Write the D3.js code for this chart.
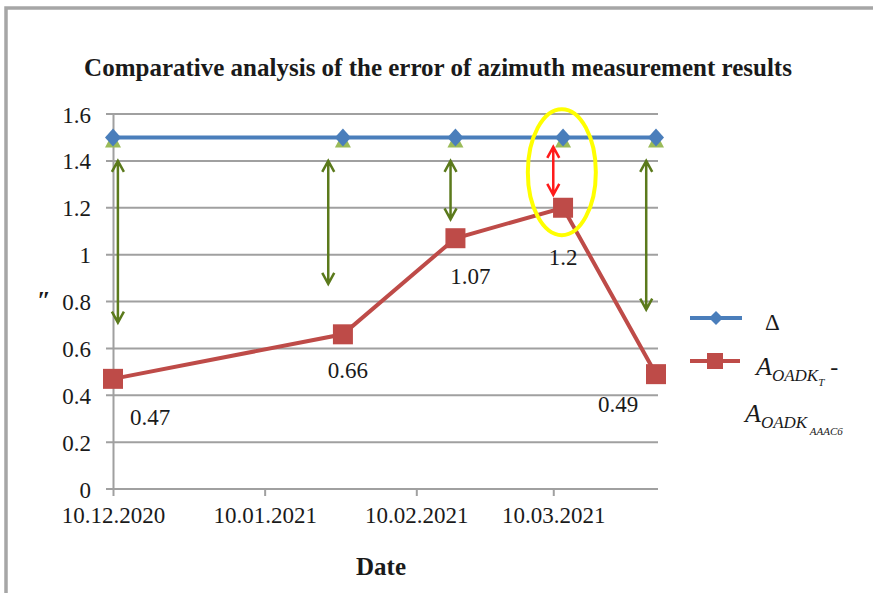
<!DOCTYPE html>
<html>
<head>
<meta charset="utf-8">
<script src="https://cdn.jsdelivr.net/npm/d3@7"></script>
<style>
  body { margin: 0; background: #fff; }
  svg { display: block; }
  text { font-family: "Liberation Serif", "Times New Roman", serif; fill: #1a1a1a; }
</style>
</head>
<body>
<div id="chart-container"></div>
<script>
// values
const dates = ["2020-12-10", "2021-01-26", "2021-02-18", "2021-03-12", "2021-03-31"];
const deltaValues = [1.5, 1.5, 1.5, 1.5, 1.5];
const diffValues = [0.47, 0.66, 1.07, 1.2, 0.49];

const yTicks = [0, 0.2, 0.4, 0.6, 0.8, 1, 1.2, 1.4, 1.6];
const xTickDates = ["2020-12-10", "2021-01-10", "2021-02-10", "2021-03-10"];
const xTickLabels = ["10.12.2020", "10.01.2021", "10.02.2021", "10.03.2021"];

// double arrows drawn between the two series
const arrowDates = ["2020-12-11", "2021-01-23", "2021-02-17", "2021-03-10", "2021-03-29"];
const arrowTop = [1.4, 1.4, 1.4, 1.46, 1.4];
const arrowBottom = [0.71, 0.875, 1.15, 1.255, 0.765];
const arrowRed = [false, false, false, true, false];

const titleText = "Comparative analysis of the error of azimuth measurement results";
const xTitle = "Date";
const yTitle = "\u2033";

const parse = d3.timeParse("%Y-%m-%d");

// label placement relative to each red point (pixels)
const labelOffsets = [[37, 46], [5, 44], [15, 46], [0, 57], [-38, 38]];

const svg = d3.select("#chart-container")
    .append("svg")
    .attr("width", 873)
    .attr("height", 593);

// outer frame
svg.append("rect")
    .attr("x", 6).attr("y", 8)
    .attr("width", 960).attr("height", 700)
    .attr("fill", "none")
    .attr("stroke", "#a6a6a6")
    .attr("stroke-width", 3.5);

const x = d3.scaleTime()
    .domain([parse("2020-12-10"), parse("2021-03-31")])
    .range([113, 656]);

const y = d3.scaleLinear()
    .domain([0, 1.6])
    .range([489, 114]);

// gridlines
svg.append("g")
    .selectAll("line")
    .data(yTicks)
    .enter().append("line")
    .attr("x1", 106).attr("x2", 658)
    .attr("y1", d => y(d)).attr("y2", d => y(d))
    .attr("stroke", "#a0a0a0")
    .attr("stroke-width", 2);

const yAxis = svg.append("g")
    .attr("transform", "translate(113,0)")
    .call(d3.axisLeft(y).tickValues(yTicks).tickSize(0).tickPadding(22)
        .tickFormat(d => String(d)));
yAxis.select(".domain").attr("stroke", "#a0a0a0").attr("stroke-width", 2);
yAxis.selectAll("text").style("font-size", "23px").attr("dy", "0.35em");

const xAxis = svg.append("g")
    .attr("transform", "translate(0,489)")
    .call(d3.axisBottom(x).tickValues(xTickDates.map(parse)).tickSize(7).tickPadding(11)
        .tickSizeOuter(0)
        .tickFormat((d, i) => xTickLabels[i]));
xAxis.select(".domain").attr("stroke", "#a0a0a0").attr("stroke-width", 2)
    .attr("d", "M113,0H658");
xAxis.selectAll("line").attr("stroke", "#a0a0a0").attr("stroke-width", 2);
xAxis.selectAll("text").style("font-size", "23px");

// title
svg.append("text")
    .attr("x", 438).attr("y", 76)
    .attr("text-anchor", "middle")
    .style("font-size", "25px")
    .style("font-weight", "bold")
    .text(titleText);

svg.append("text")
    .attr("x", 381).attr("y", 575)
    .attr("text-anchor", "middle")
    .style("font-size", "25px")
    .style("font-weight", "bold")
    .text(xTitle);

svg.append("text")
    .attr("x", 44).attr("y", 309)
    .attr("text-anchor", "middle")
    .style("font-size", "25px")
    .style("font-weight", "bold")
    .style("font-style", "italic")
    .text(yTitle);

const deltaData = dates.map((d, i) => ({ date: parse(d), value: deltaValues[i] }));
const diffData = dates.map((d, i) => ({ date: parse(d), value: diffValues[i] }));

const line = d3.line().x(d => x(d.date)).y(d => y(d.value));

// arrows
function arrowPath(xp, y1, y2) {
    const h = 11, w = 6;
    return `M${xp},${y1}V${y2}` +
        `M${xp - w},${y1 + h}L${xp},${y1}L${xp + w},${y1 + h}` +
        `M${xp - w},${y2 - h}L${xp},${y2}L${xp + w},${y2 - h}`;
}
svg.append("g")
    .selectAll("path")
    .data(arrowDates)
    .enter().append("path")
    .attr("d", (d, i) => arrowPath(x(parse(d)), y(arrowTop[i]), y(arrowBottom[i])))
    .attr("fill", "none")
    .attr("stroke", (d, i) => arrowRed[i] ? "#ff1a1a" : "#5b7a1c")
    .attr("stroke-width", 2.5);

// delta series
svg.append("path")
    .datum(deltaData)
    .attr("d", line)
    .attr("fill", "none")
    .attr("stroke", "#4a7ebb")
    .attr("stroke-width", 4);

// green triangles hidden under the diamonds
svg.append("g")
    .selectAll("path")
    .data(deltaData)
    .enter().append("path")
    .attr("transform", d => `translate(${x(d.date)},${y(d.value)})`)
    .attr("d", "M0,-5L8,10L-8,10Z")
    .attr("fill", "#9bbb59");

svg.append("g")
    .selectAll("path")
    .data(deltaData)
    .enter().append("path")
    .attr("transform", d => `translate(${x(d.date)},${y(d.value)})`)
    .attr("d", "M0,-9L8,0L0,9L-8,0Z")
    .attr("fill", "#4a7ebb");

// difference series
svg.append("path")
    .datum(diffData)
    .attr("d", line)
    .attr("fill", "none")
    .attr("stroke", "#be4b48")
    .attr("stroke-width", 4);

svg.append("g")
    .selectAll("rect")
    .data(diffData)
    .enter().append("rect")
    .attr("x", d => x(d.date) - 10)
    .attr("y", d => y(d.value) - 10)
    .attr("width", 20).attr("height", 20)
    .attr("fill", "#be4b48");

svg.append("g")
    .selectAll("text")
    .data(diffData)
    .enter().append("text")
    .attr("x", (d, i) => x(d.date) + labelOffsets[i][0])
    .attr("y", (d, i) => y(d.value) + labelOffsets[i][1])
    .attr("text-anchor", "middle")
    .style("font-size", "23px")
    .text(d => String(d.value));

// highlight ellipse
svg.append("ellipse")
    .attr("cx", x(new Date(2021, 2, 11, 18)))
    .attr("cy", y(1.352))
    .attr("rx", 34).attr("ry", 63)
    .attr("fill", "none")
    .attr("stroke", "#ffff00")
    .attr("stroke-width", 4);

// legend
const legend = svg.append("g");
legend.append("line")
    .attr("x1", 690).attr("x2", 742).attr("y1", 318).attr("y2", 318)
    .attr("stroke", "#4a7ebb").attr("stroke-width", 4);
legend.append("path")
    .attr("transform", "translate(716,318)")
    .attr("d", "M0,-7L7,0L0,7L-7,0Z")
    .attr("fill", "#4a7ebb");
legend.append("text")
    .attr("x", 765).attr("y", 330)
    .style("font-size", "23px")
    .text("\u0394");

legend.append("line")
    .attr("x1", 690).attr("x2", 740).attr("y1", 361).attr("y2", 361)
    .attr("stroke", "#be4b48").attr("stroke-width", 4);
legend.append("rect")
    .attr("x", 707).attr("y", 353).attr("width", 16).attr("height", 16)
    .attr("fill", "#be4b48");

const l1 = legend.append("text")
    .attr("x", 756).attr("y", 375)
    .style("font-style", "italic");
l1.append("tspan").style("font-size", "26px").text("A");
l1.append("tspan").attr("dy", 6).style("font-size", "17px").text("OADK");
l1.append("tspan").attr("dy", 5).style("font-size", "11px").text("T");
l1.append("tspan").attr("dy", -11).style("font-size", "24px").style("font-style", "normal").text("  -");

const l2 = legend.append("text")
    .attr("x", 745).attr("y", 422)
    .style("font-style", "italic");
l2.append("tspan").style("font-size", "26px").text("A");
l2.append("tspan").attr("dy", 6).style("font-size", "17px").text("OADK");
l2.append("tspan").attr("dy", 7).style("font-size", "11px").text(" AAAC6");
</script>
</body>
</html>
